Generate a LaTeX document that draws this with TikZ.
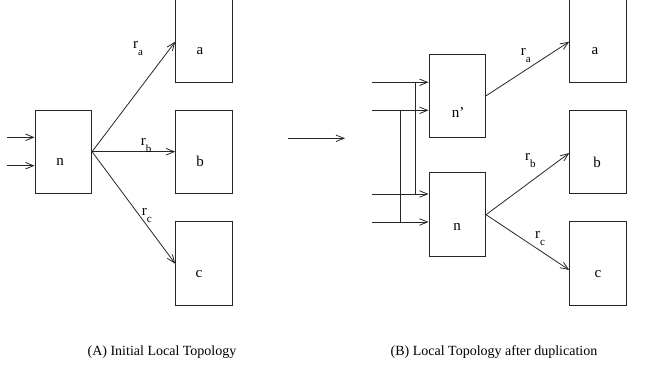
\documentclass[tikz,border=0pt]{standalone}
\usepackage{fontspec}
\setmainfont{Liberation Serif}
\usetikzlibrary{arrows.meta}
% route label: r with a lowered index
\newcommand{\rlab}[1]{r\raisebox{-7pt}{\fontsize{11}{12}\selectfont #1}}
\tikzset{
  box/.style={draw, rectangle, minimum width=56.7pt, minimum height=83.3pt, inner sep=0pt},
  wire/.style={line width=0.8pt, draw=black!85},
  arr/.style={wire, -{Straight Barb[length=8pt,width=6.5pt,line width=0.8pt]}},
  lbl/.style={font=\fontsize{15}{17}\selectfont, inner sep=0pt},
  rlbl/.style={font=\fontsize{15}{17}\selectfont, inner sep=0pt, anchor=base west},
  captxt/.style={font=\fontsize{14}{16}\selectfont, inner sep=0pt, anchor=base}
}
\begin{document}
\begin{tikzpicture}[x=1pt,y=-1pt]
\useasboundingbox (0,0) rectangle (645,372);
\begin{scope}[every node/.append style={line width=0.8pt, draw=black!85}]
% (A) initial topology
\node[box] (nA) at (63.3,151.7) {};
\node[box] (aA) at (204,40.5) {};
\node[box] (bA) at (204,151.7) {};
\node[box] (cA) at (204,263.3) {};
% (B) after duplication
\node[box, minimum height=83.7pt] (npB) at (457.3,95.8) {};
\node[box, minimum height=84pt] (nB) at (457.3,214.7) {};
\node[box] (aB) at (598,40.5) {};
\node[box] (bB) at (598,151.7) {};
\node[box] (cB) at (598,263.3) {};
\end{scope}
% box labels
\node[lbl] (tnA) at (60,162) {n};
\node[lbl] (taA) at (200,51) {a};
\node[lbl] (tbA) at (200,161) {b};
\node[lbl] (tcA) at (199,274) {c};
\node[lbl] (tnpB) at (458,113) {n'};
\node[lbl] (tnB) at (457,226.5) {n};
\node[lbl] (taB) at (595,51) {a};
\node[lbl] (tbB) at (597,162) {b};
\node[lbl] (tcB) at (598,274) {c};
% inputs of (A)
\coordinate (iA1) at (7,137.3);
\coordinate (iA2) at (7,165.7);
\draw[arr] (iA1) -- (iA1 -| nA.west);
\draw[arr] (iA2) -- (iA2 -| nA.west);
% routes of (A)
\draw[arr] (nA.east) -- (aA.west |- 0,41.7);
\draw[arr] (nA.east) -- (bA.west);
\draw[arr] (nA.east) -- (cA.west |- 0,263.7);
\node[rlbl] (raA) at (133,48.5) {\rlab{a}};
\node[rlbl] (rbA) at (140.7,145) {\rlab{b}};
\node[rlbl] (rcA) at (141.7,215) {\rlab{c}};
% transformation arrow
\coordinate (m1) at (288,138.3);
\coordinate (m2) at (345,138.3);
\draw[arr] (m1) -- (m2);
% inputs of (B), shared by n' and n
\coordinate (iB1) at (372,82.3);
\coordinate (iB2) at (372,110.3);
\coordinate (iB3) at (372,194);
\coordinate (iB4) at (372,222);
\draw[arr] (iB1) -- (iB1 -| npB.west);
\draw[arr] (iB2) -- (iB2 -| npB.west);
\draw[arr] (iB3) -- (iB3 -| nB.west);
\draw[arr] (iB4) -- (iB4 -| nB.west);
\coordinate (v1t) at (415,82.3);
\coordinate (v1b) at (415,194);
\coordinate (v2t) at (400.7,110.3);
\coordinate (v2b) at (400.7,222);
\draw[wire] (v1t) -- (v1b);
\draw[wire] (v2t) -- (v2b);
% routes of (B)
\draw[arr] (npB.east) -- (aB.west |- 0,41.7);
\draw[arr] (nB.east) -- (bB.west |- 0,153);
\draw[arr] (nB.east) -- (cB.west |- 0,270);
\node[rlbl] (raB) at (520.7,55) {\rlab{a}};
\node[rlbl] (rbB) at (525,160) {\rlab{b}};
\node[rlbl] (rcB) at (535,238.3) {\rlab{c}};
% captions
\node[captxt] (capA) at (162,355) {(A) Initial Local Topology};
\node[captxt] (capB) at (494,355) {(B) Local Topology after duplication};
\end{tikzpicture}
\end{document}
